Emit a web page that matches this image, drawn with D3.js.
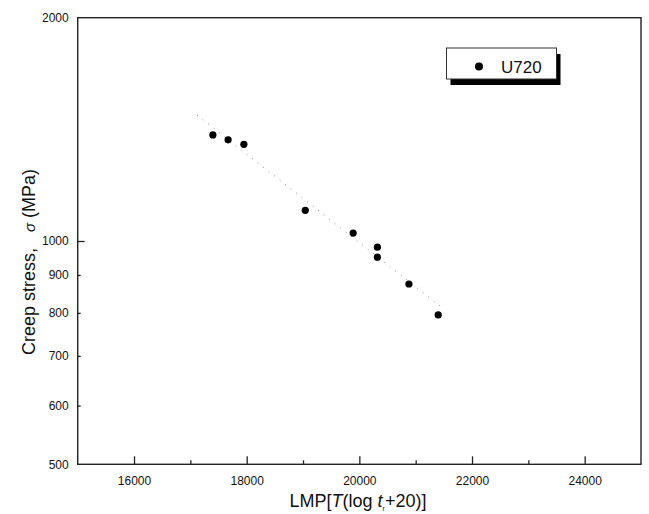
<!DOCTYPE html>
<html>
<head>
<meta charset="utf-8">
<script src="https://cdn.jsdelivr.net/npm/d3@7"></script>
<style>
  body { margin: 0; background: #fff; }
  text { font-family: "Liberation Sans", Arial, sans-serif; fill: #111; }
</style>
</head>
<body>
<svg id="chart" width="649" height="514"></svg>
<script>
// data {{{ //
const lmp = [17400, 17670, 17950, 19040, 19890, 20320, 20320, 20880, 21400];
const stress = [1390, 1369, 1350, 1100, 1025, 981, 951, 875, 795];
// dotted fit line, two ends
const fitLmp = [17120, 21480];
const fitStress = [1478, 812];
const xMajor = [16000, 18000, 20000, 22000, 24000];
const xMinor = [17000, 19000, 21000, 23000];
const yLabels = [500, 600, 700, 800, 900, 1000, 2000];
const yMinor = [600, 700, 800, 900];
const seriesName = "U720";
// }}} data //

const svg = d3.select("#chart");
const plotL = 77.7, plotR = 641, plotT = 17.7, plotB = 464.3;

const x = d3.scaleLinear().domain([15000, 25000]).range([plotL, plotR]);
const y = d3.scaleLog().domain([500, 2000]).range([plotB, plotT]);

// frame
svg.append("rect")
  .attr("x", plotL).attr("y", plotT)
  .attr("width", plotR - plotL).attr("height", plotB - plotT)
  .attr("fill", "none").attr("stroke", "#222").attr("stroke-width", 1.4);

// x-axis {{{ //
const gx = svg.append("g").attr("transform", `translate(0,${plotB})`);
gx.call(d3.axisBottom(x).tickValues(xMajor).tickSize(-8).tickSizeOuter(0).tickPadding(12).tickFormat(d3.format("d")));
gx.append("g").call(d3.axisBottom(x).tickValues(xMinor).tickSize(-4).tickSizeOuter(0).tickFormat(""));
gx.selectAll(".domain").remove();
gx.selectAll(".tick line").attr("stroke", "#222").attr("stroke-width", 1.3);
gx.selectAll(".tick text").attr("font-size", 12).attr("font-family", "Liberation Sans, Arial, sans-serif").attr("fill", "#111");
// }}} x-axis //

// y-axis {{{ //
const gy = svg.append("g").attr("transform", `translate(${plotL},0)`);
gy.call(d3.axisLeft(y).tickValues(yLabels).tickSize(0).tickPadding(9).tickFormat(d3.format("d")));
gy.append("g").call(d3.axisLeft(y).tickValues([1000]).tickSize(-7).tickSizeOuter(0).tickFormat(""));
gy.append("g").call(d3.axisLeft(y).tickValues(yMinor).tickSize(-3).tickSizeOuter(0).tickFormat(""));
gy.selectAll(".domain").remove();
gy.selectAll(".tick line").attr("stroke", "#222").attr("stroke-width", 1.3);
gy.selectAll(".tick text").attr("font-size", 12).attr("font-family", "Liberation Sans, Arial, sans-serif").attr("fill", "#111");
// }}} y-axis //

// fit line
const line = d3.line().x(d => x(d[0])).y(d => y(d[1]));
svg.append("path")
  .datum(fitLmp.map((d, i) => [d, fitStress[i]]))
  .attr("d", line)
  .attr("fill", "none")
  .attr("stroke", "#888")
  .attr("stroke-width", 1)
  .attr("stroke-dasharray", "1,6");

// points
svg.append("g").selectAll("circle")
  .data(lmp.map((d, i) => [d, stress[i]]))
  .enter().append("circle")
  .attr("cx", d => x(d[0]))
  .attr("cy", d => y(d[1]))
  .attr("r", 3.6)
  .attr("fill", "#000");

// legend {{{ //
const lg = svg.append("g").attr("transform", "translate(446.5,48)");
lg.append("rect").attr("x", 4).attr("y", 6).attr("width", 110).attr("height", 31).attr("fill", "#000");
lg.append("rect").attr("x", 0).attr("y", 0).attr("width", 110).attr("height", 31)
  .attr("fill", "#fff").attr("stroke", "#333").attr("stroke-width", 1);
lg.append("circle").attr("cx", 32.5).attr("cy", 18.5).attr("r", 4).attr("fill", "#000");
lg.append("text").attr("x", 54.5).attr("y", 25).attr("font-size", 17).text(seriesName);
// }}} legend //

// axis titles {{{ //
const xt = svg.append("text")
  .attr("x", 358).attr("y", 507)
  .attr("text-anchor", "middle")
  .attr("font-size", 18);
xt.append("tspan").text("LMP[");
xt.append("tspan").attr("font-style", "italic").text("T");
xt.append("tspan").text("(log ");
xt.append("tspan").attr("font-style", "italic").text("t");
xt.append("tspan").attr("font-size", 7).attr("dy", 4).text("r");
xt.append("tspan").attr("dy", -4).text("+20)]");

const yt = svg.append("text")
  .attr("transform", "translate(35,262) rotate(-90)")
  .attr("text-anchor", "middle")
  .attr("font-size", 18);
yt.append("tspan").text("Creep stress,");
yt.append("tspan").attr("dx", 16).attr("font-style", "italic").attr("font-size", 15).text("σ");
yt.append("tspan").text(" (MPa)");
// }}} axis titles //
</script>
</body>
</html>
